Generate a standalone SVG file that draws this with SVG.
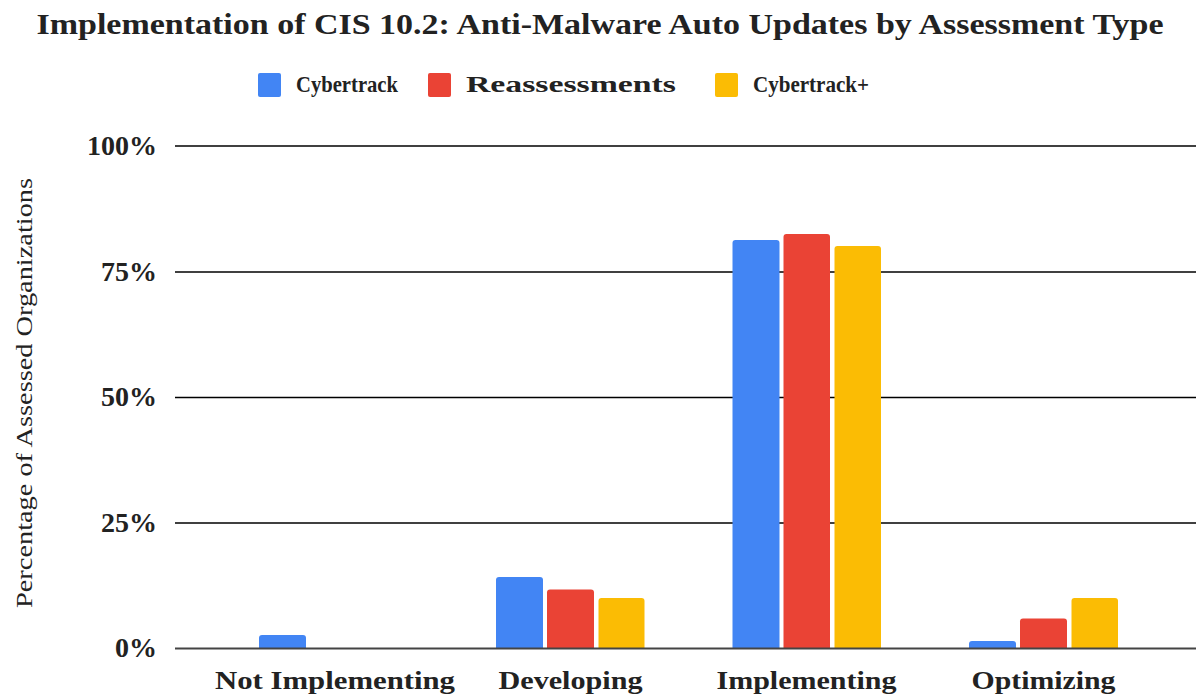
<svg xmlns="http://www.w3.org/2000/svg" width="1196" height="700" viewBox="0 0 1196 700">
<style>
text { font-family: "Liberation Serif", "Times New Roman", serif; fill: #222; }
.title { font-size: 29px; font-weight: bold; }
.leg { font-size: 24px; font-weight: bold; }
.tick { font-size: 28px; font-weight: bold; text-anchor: end; }
.cat { font-size: 26px; font-weight: bold; text-anchor: middle; }
.axis { font-size: 24px; text-anchor: middle; }
.grid { stroke: #000; stroke-width: 1.6; }
.base { stroke: #444; stroke-width: 2.2; }
.b { fill: #4285F4; }
.r { fill: #EA4335; }
.y { fill: #FBBC04; }
</style>
<rect width="1196" height="700" fill="#fff"/>
<text class="title" x="600" y="34" text-anchor="middle" textLength="1127" lengthAdjust="spacingAndGlyphs">Implementation of CIS 10.2: Anti-Malware Auto Updates by Assessment Type</text>
<g id="legend">
<rect class="b" x="258" y="73" width="23" height="24" rx="2"/>
<text class="leg" x="296" y="92" textLength="102" lengthAdjust="spacingAndGlyphs">Cybertrack</text>
<rect class="r" x="428" y="73" width="23" height="24" rx="2"/>
<text class="leg" x="466" y="92" textLength="210" lengthAdjust="spacingAndGlyphs">Reassessments</text>
<rect class="y" x="715" y="73" width="23" height="24" rx="2"/>
<text class="leg" x="753" y="92" textLength="116" lengthAdjust="spacingAndGlyphs">Cybertrack+</text>
</g>
<g id="gridlines">
<line class="grid" x1="175" y1="146" x2="1196" y2="146"/>
<line class="grid" x1="175" y1="272" x2="1196" y2="272"/>
<line class="grid" x1="175" y1="397.5" x2="1196" y2="397.5"/>
<line class="grid" x1="175" y1="523" x2="1196" y2="523"/>
</g>
<g id="yticks">
<text class="tick" x="157" y="155">100%</text>
<text class="tick" x="157" y="281">75%</text>
<text class="tick" x="157" y="406">50%</text>
<text class="tick" x="157" y="532">25%</text>
<text class="tick" x="157" y="657">0%</text>
</g>
<text class="axis" transform="translate(32,393) rotate(-90)" textLength="430" lengthAdjust="spacingAndGlyphs">Percentage of Assessed Organizations</text>
<g id="bars">
<path class="b" d="M259,649 V638 a3,3 0 0 1 3,-3 H303 a3,3 0 0 1 3,3 V649 Z"/>
<path class="b" d="M496,649 V580 a3,3 0 0 1 3,-3 H540 a3,3 0 0 1 3,3 V649 Z"/>
<path class="r" d="M547,649 V592.5 a3,3 0 0 1 3,-3 H591 a3,3 0 0 1 3,3 V649 Z"/>
<path class="y" d="M598.5,649 V601 a3,3 0 0 1 3,-3 H641.5 a3,3 0 0 1 3,3 V649 Z"/>
<path class="b" d="M732.5,649 V243 a3,3 0 0 1 3,-3 H776.5 a3,3 0 0 1 3,3 V649 Z"/>
<path class="r" d="M783.5,649 V237 a3,3 0 0 1 3,-3 H827 a3,3 0 0 1 3,3 V649 Z"/>
<path class="y" d="M834.5,649 V249 a3,3 0 0 1 3,-3 H878 a3,3 0 0 1 3,3 V649 Z"/>
<path class="b" d="M969,649 V644 a3,3 0 0 1 3,-3 H1013 a3,3 0 0 1 3,3 V649 Z"/>
<path class="r" d="M1020,649 V621.5 a3,3 0 0 1 3,-3 H1064 a3,3 0 0 1 3,3 V649 Z"/>
<path class="y" d="M1071.5,649 V601 a3,3 0 0 1 3,-3 H1115 a3,3 0 0 1 3,3 V649 Z"/>
</g>
<line class="base" x1="175" y1="648.5" x2="1196" y2="648.5"/>
<g id="categories">
<text class="cat" x="335" y="689" textLength="240" lengthAdjust="spacingAndGlyphs">Not Implementing</text>
<text class="cat" x="570.5" y="689" textLength="144" lengthAdjust="spacingAndGlyphs">Developing</text>
<text class="cat" x="806.5" y="689" textLength="180" lengthAdjust="spacingAndGlyphs">Implementing</text>
<text class="cat" x="1043.5" y="689" textLength="144" lengthAdjust="spacingAndGlyphs">Optimizing</text>
</g>
</svg>
